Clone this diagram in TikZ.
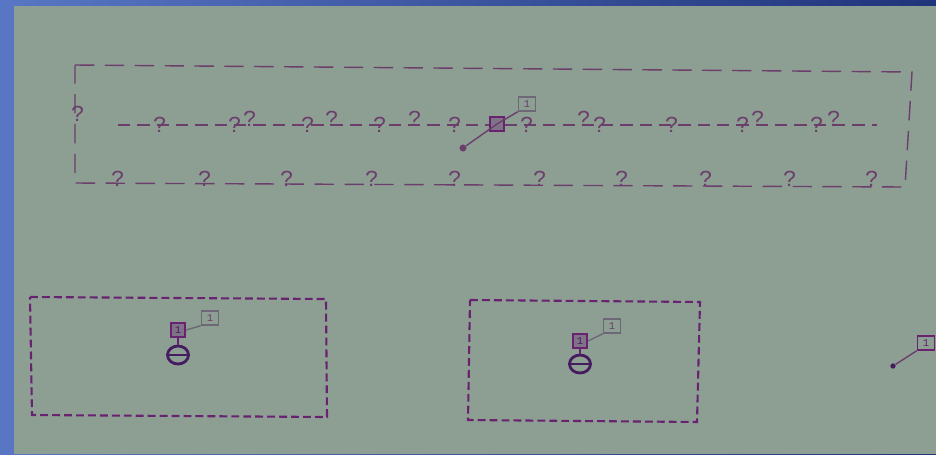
\documentclass[tikz,border=0pt]{standalone}
\usepackage{fontspec}
\setmonofont{Liberation Mono}
\usetikzlibrary{shapes.geometric}
\definecolor{scrgreen}{RGB}{141,159,147}
\definecolor{scrblue}{RGB}{88,118,196}
\definecolor{scrnavy}{RGB}{32,52,122}
\definecolor{wire}{RGB}{108,62,108}
\definecolor{frame}{RGB}{104,34,112}
\definecolor{ink}{RGB}{70,28,96}
\definecolor{tagline}{RGB}{108,104,118}
\tikzset{
  qmark/.style={font=\ttfamily\fontsize{13}{13}\selectfont, text=wire, inner sep=0pt, anchor=base},
  cellbox/.style={draw=frame, very thick, fill=frame!35!scrgreen, minimum size=0.28cm, inner sep=0pt, font=\ttfamily\fontsize{6}{6}\selectfont, text=ink},
  labelbox/.style={draw=tagline, thick, minimum width=0.34cm, minimum height=0.28cm, inner sep=0pt, font=\ttfamily\fontsize{6}{6}\selectfont, text=wire},
  minusmark/.style={draw=ink, ultra thick, ellipse, minimum width=0.42cm, minimum height=0.36cm, inner sep=0pt},
  pin/.style={circle, fill=ink, inner sep=0pt, minimum size=3pt}
}
\begin{document}
\begin{tikzpicture}[x=0.02cm, y=-0.02cm]
\useasboundingbox (0,0) rectangle (936,454);
% screen
\shade[left color=scrblue, right color=scrnavy] (0,0) rectangle (936,454);
\fill[scrblue] (0,0) rectangle (14,454);
\fill[scrgreen] (14,6) rectangle (936,454);

% Top frame
\draw[wire, thick, dash pattern=on 11pt off 6pt] (75,65) -- (912,72) -- (905,187) -- (75,183) -- cycle;
\node[qmark] (qleft) at (78,121) {?};
\coordinate (rowstart) at (118,125);
\coordinate (rowend) at (877,125);
\draw[wire, thick, dash pattern=on 7pt off 4pt] (rowstart) -- (rowend);
\foreach \x in {160,235,308,380,455,527,600,672,743,817}
  \node[qmark] at (\x,132) {?};
\foreach \x in {250,332,415,584,758,834}
  \node[qmark] at (\x,126) {?};
\foreach \x in {118,205,287,372,455,540,622,706,790,872}
  \node[qmark] at (\x,186) {?};

% Selected cell
\node[cellbox] (cell0) at (497,124) {};
\node[labelbox] (lab0) at (527,104) {1};
\node[pin, minimum size=4pt, fill=wire] (pin0) at (463,148) {};
\draw[wire, thick] (pin0) -- (cell0.center) -- (lab0.south west);

% Left frame
\draw[frame, very thick, dash pattern=on 4.5pt off 2.3pt] (30,297) -- (326,299) -- (327,417) -- (32,415) -- cycle;
\node[cellbox] (cell1) at (178,330) {1};
\node[labelbox] (lab1) at (210,318) {1};
\node[minusmark] (minus1) at (178,355) {};
\draw[tagline, thick] (cell1.east) -- (lab1.south west);
\draw[frame, thick] (cell1.south) -- (minus1.north);
\draw[ink, ultra thick] (minus1.west) -- (minus1.east);

% Right frame
\draw[frame, very thick, dash pattern=on 4.5pt off 2.3pt] (470,300) -- (700,302) -- (697,422) -- (468,420) -- cycle;
\node[cellbox] (cell2) at (580,341) {1};
\node[labelbox] (lab2) at (612,326) {1};
\node[minusmark] (minus2) at (580,364) {};
\draw[tagline, thick] (cell2.east) -- (lab2.south west);
\draw[frame, thick] (cell2.south) -- (minus2.north);
\draw[ink, ultra thick] (minus2.west) -- (minus2.east);

% Loose wire
\node[pin] (pin3) at (893,366) {};
\node[labelbox, draw=frame, text=frame] (lab3) at (926,343) {1};
\draw[wire, thick] (pin3) -- (lab3.south west);
\end{tikzpicture}
\end{document}
